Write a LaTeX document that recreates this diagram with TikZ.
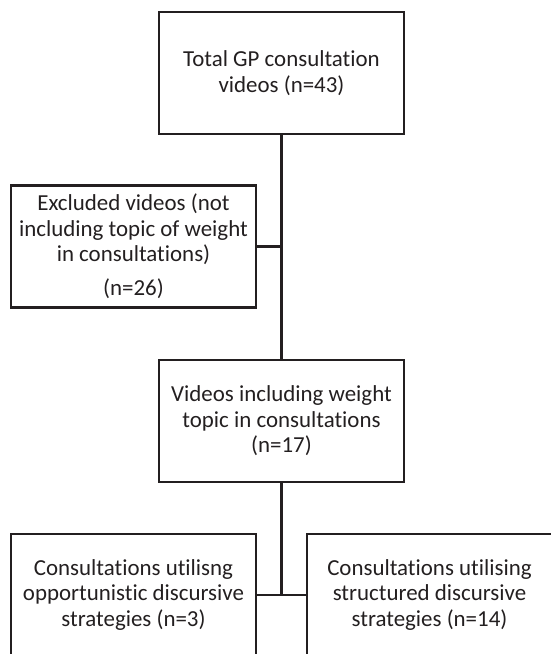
\documentclass[tikz,border=0pt]{standalone}
\usepackage{fontspec}
\setmainfont{Carlito}[Ligatures=NoCommon]
\usetikzlibrary{positioning, calc}
\definecolor{boxline}{HTML}{231F20}

\begin{document}
\begin{tikzpicture}[x=1bp, y=-1bp,
    caja/.style={draw=boxline, line width=2.2bp, minimum width=245bp, minimum height=122bp,
      inner sep=0pt, align=center, text=boxline, font=\fontsize{23}{25.5}\selectfont},
    enlace/.style={draw=boxline, line width=2.2bp}]
  \useasboundingbox (0,0) rectangle (551,654);
  \clip (0,0) rectangle (551,654);

  % Total de videos
  \node[caja] (total) at (281.5,73) {Total GP consultation\\videos (n=43)};

  % Videos excluidos
  \node[caja] (excl) at (133.5,246.5) {Excluded videos (not\\including topic of weight\\in consultations)\\[9bp](n=26)};

  % Videos con el tema del peso
  \node[caja] (peso) at (281.5,421) {Videos including weight\\topic in consultations\\(n=17)};

  % Estrategias discursivas
  \node[caja] (oport) at (133.5,595) {Consultations utilisng\\opportunistic discursive\\strategies (n=3)};
  \node[caja] (estr) at (429.5,595) {Consultations utilising\\structured discursive\\strategies (n=14)};

  % Conectores
  \draw[enlace] (total.south) -- (peso.north);
  \draw[enlace] (excl.east) -- (excl.east -| total.south);
  \coordinate (union) at (peso.south |- oport.east);
  \draw[enlace] (peso.south) -- (union);
  \draw[enlace] (oport.east) -- (estr.west);
\end{tikzpicture}
\end{document}
